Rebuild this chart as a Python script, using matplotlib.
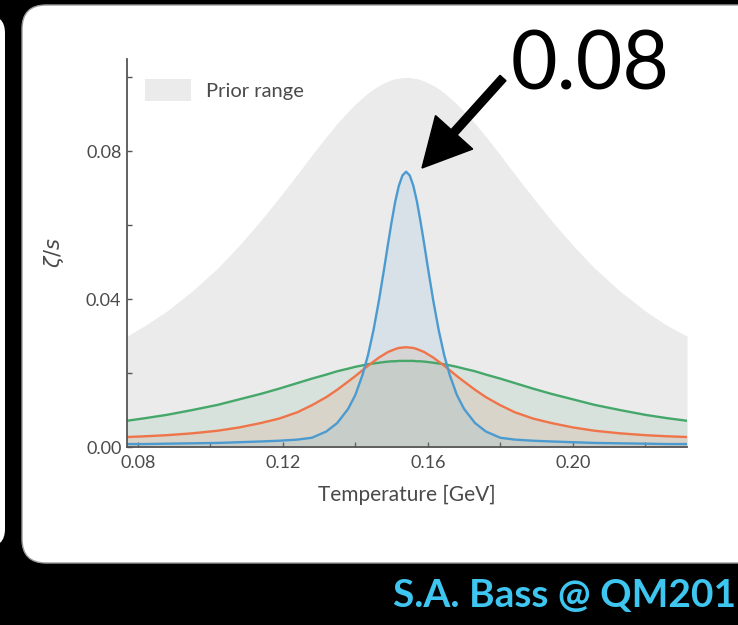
import matplotlib
matplotlib.use("Agg")
import matplotlib.pyplot as plt
from matplotlib.patches import FancyBboxPatch, FancyArrow, Patch
from matplotlib.transforms import IdentityTransform
import numpy as np

plt.rcParams['font.family'] = ['Lato', 'DejaVu Sans']

# Temperature grid [GeV] and bulk viscosity curves zeta/s(T)
temperature = [0.077, 0.082, 0.088, 0.095, 0.102, 0.108, 0.114, 0.119, 0.124,
               0.128, 0.132, 0.135, 0.138, 0.140, 0.142, 0.1435, 0.145, 0.1465,
               0.148, 0.149, 0.150, 0.151, 0.152, 0.153, 0.154,
               0.155, 0.156, 0.157, 0.158, 0.159, 0.160, 0.1615, 0.163, 0.1645,
               0.166, 0.168, 0.170, 0.173, 0.176, 0.180, 0.184, 0.189, 0.194,
               0.200, 0.206, 0.213, 0.220, 0.226, 0.2315]
prior_upper = [0.0300, 0.0329, 0.0368, 0.0422, 0.0484, 0.0546, 0.0614, 0.0675,
               0.0738, 0.0790, 0.0840, 0.0876, 0.0908, 0.0928, 0.0946, 0.0958,
               0.0969, 0.0978, 0.0986, 0.0990, 0.0994, 0.0997, 0.0998, 0.1000,
               0.1000,
               0.1000, 0.0998, 0.0997, 0.0994, 0.0990, 0.0986, 0.0978, 0.0969,
               0.0958, 0.0946, 0.0928, 0.0908, 0.0876, 0.0840, 0.0790, 0.0738,
               0.0675, 0.0614, 0.0546, 0.0484, 0.0422, 0.0368, 0.0329, 0.0300]
zeta_blue = [0.0008, 0.0008, 0.0009, 0.0010, 0.0011, 0.0013, 0.0015, 0.0017,
             0.0020, 0.0025, 0.0042, 0.0065, 0.0103, 0.0141, 0.0196, 0.0249,
             0.0316, 0.0396, 0.0486, 0.0549, 0.0609, 0.0664, 0.0707, 0.0735,
             0.0745,
             0.0735, 0.0707, 0.0664, 0.0609, 0.0549, 0.0486, 0.0396, 0.0316,
             0.0249, 0.0196, 0.0141, 0.0103, 0.0065, 0.0042, 0.0025, 0.0020,
             0.0017, 0.0015, 0.0013, 0.0011, 0.0010, 0.0009, 0.0008, 0.0008]
zeta_orange = [0.0027, 0.0029, 0.0032, 0.0037, 0.0044, 0.0053, 0.0065, 0.0077,
               0.0094, 0.0113, 0.0135, 0.0155, 0.0177, 0.0192, 0.0208, 0.0220,
               0.0231, 0.0242, 0.0251, 0.0257, 0.0261, 0.0265, 0.0268, 0.0269,
               0.0270,
               0.0269, 0.0268, 0.0265, 0.0261, 0.0257, 0.0251, 0.0242, 0.0231,
               0.0220, 0.0208, 0.0192, 0.0177, 0.0155, 0.0135, 0.0113, 0.0094,
               0.0077, 0.0065, 0.0053, 0.0044, 0.0037, 0.0032, 0.0029, 0.0027]
zeta_green = [0.0071, 0.0078, 0.0087, 0.0100, 0.0114, 0.0129, 0.0144, 0.0158,
              0.0173, 0.0185, 0.0196, 0.0205, 0.0212, 0.0217, 0.0221, 0.0224,
              0.0226, 0.0228, 0.0230, 0.0231, 0.0232, 0.0232, 0.0233, 0.0233,
              0.0233,
              0.0233, 0.0233, 0.0232, 0.0232, 0.0231, 0.0230, 0.0228, 0.0226,
              0.0224, 0.0221, 0.0217, 0.0212, 0.0205, 0.0196, 0.0185, 0.0173,
              0.0158, 0.0144, 0.0129, 0.0114, 0.0100, 0.0087, 0.0078, 0.0071]

x_ticks = [0.08, 0.12, 0.16, 0.20]
x_minor = [0.10, 0.14, 0.18, 0.22]
y_ticks = [0.00, 0.04, 0.08]
y_minor = [0.02, 0.06, 0.10]

W, H = 738, 625
fig = plt.figure(figsize=(W / 100, H / 100), dpi=100)
fig.patch.set_facecolor('black')

# slide panels (pixel coordinates, origin bottom-left)
fig.patches.append(FancyBboxPatch((-40, H - 547), 45, 532,
                                  boxstyle="round,pad=0,rounding_size=18",
                                  facecolor='white', edgecolor='none',
                                  transform=IdentityTransform(), zorder=-2))
fig.patches.append(FancyBboxPatch((22, H - 563), 760, 558,
                                  boxstyle="round,pad=0,rounding_size=24",
                                  facecolor='white', edgecolor='#9a9a9a',
                                  linewidth=1.0,
                                  transform=IdentityTransform(), zorder=-2))

ax = fig.add_axes([127 / W, 1 - 447 / H, (687 - 127) / W, (447 - 59) / H])
ax.set_facecolor('none')
ax.set_zorder(1)

T = np.array(temperature)
ax.fill_between(T, 0, prior_upper, color='#ebebeb', linewidth=0, zorder=1)

series = [
    (zeta_green, '#45a86a'),
    (zeta_orange, '#ef7449'),
    (zeta_blue, '#4c9bd0'),
]
for vals, col in series:
    ax.fill_between(T, 0, vals, color=col, alpha=0.12, linewidth=0, zorder=2)
for vals, col in series:
    ax.plot(T, vals, color=col, linewidth=1.7, zorder=3,
            solid_joinstyle='round')

ax.set_xlim(0.077, 0.2315)
ax.set_ylim(0, 0.105)
ax.set_xticks(x_ticks)
ax.set_xticklabels([f"{v:.2f}" for v in x_ticks])
ax.set_xticks(x_minor, minor=True)
ax.set_yticks(y_ticks)
ax.set_yticklabels([f"{v:.2f}" for v in y_ticks])
ax.set_yticks(y_minor, minor=True)

for s in ['top', 'right']:
    ax.spines[s].set_visible(False)
for s in ['left', 'bottom']:
    ax.spines[s].set_color('#555555')
    ax.spines[s].set_linewidth(1.3)
    ax.spines[s].set_zorder(5)

ax.tick_params(which='both', direction='in', length=3.5, width=1.0,
               color='#555555', labelsize=13, labelcolor='#4a4a4a')
ax.tick_params(axis='x', pad=6)
ax.tick_params(axis='y', pad=4)

ax.set_xlabel('Temperature [GeV]', fontsize=15, color='#4a4a4a', labelpad=10)
ax.set_ylabel(r'$\zeta/s$', fontsize=15, color='#4a4a4a', labelpad=14)

leg = ax.legend(handles=[Patch(facecolor='#ebebeb', edgecolor='none')],
                labels=['Prior range'], loc='upper left', frameon=False,
                fontsize=14.5, handlelength=2.3, handleheight=1.3,
                handletextpad=0.7,
                bbox_to_anchor=(0.0, 0.995), labelcolor='#4a4a4a')

# callout for the peak value
fig.text(590 / W, 1 - 66 / H, '0.08', fontsize=58, color='black',
         ha='center', va='center', fontweight='normal', zorder=10)
fig.patches.append(FancyArrow(503, H - 78, 422 - 503, -(168 - 78),
                              width=8, head_width=50, head_length=48,
                              length_includes_head=True, color='black',
                              transform=IdentityTransform(), zorder=10))

fig.text(736 / W, 1 - 596 / H, 'S.A. Bass @ QM201', fontsize=28,
         color='#3ec6f0', ha='right', va='center', fontweight='bold')

fig.savefig('out.png', dpi=100, facecolor=fig.get_facecolor())
